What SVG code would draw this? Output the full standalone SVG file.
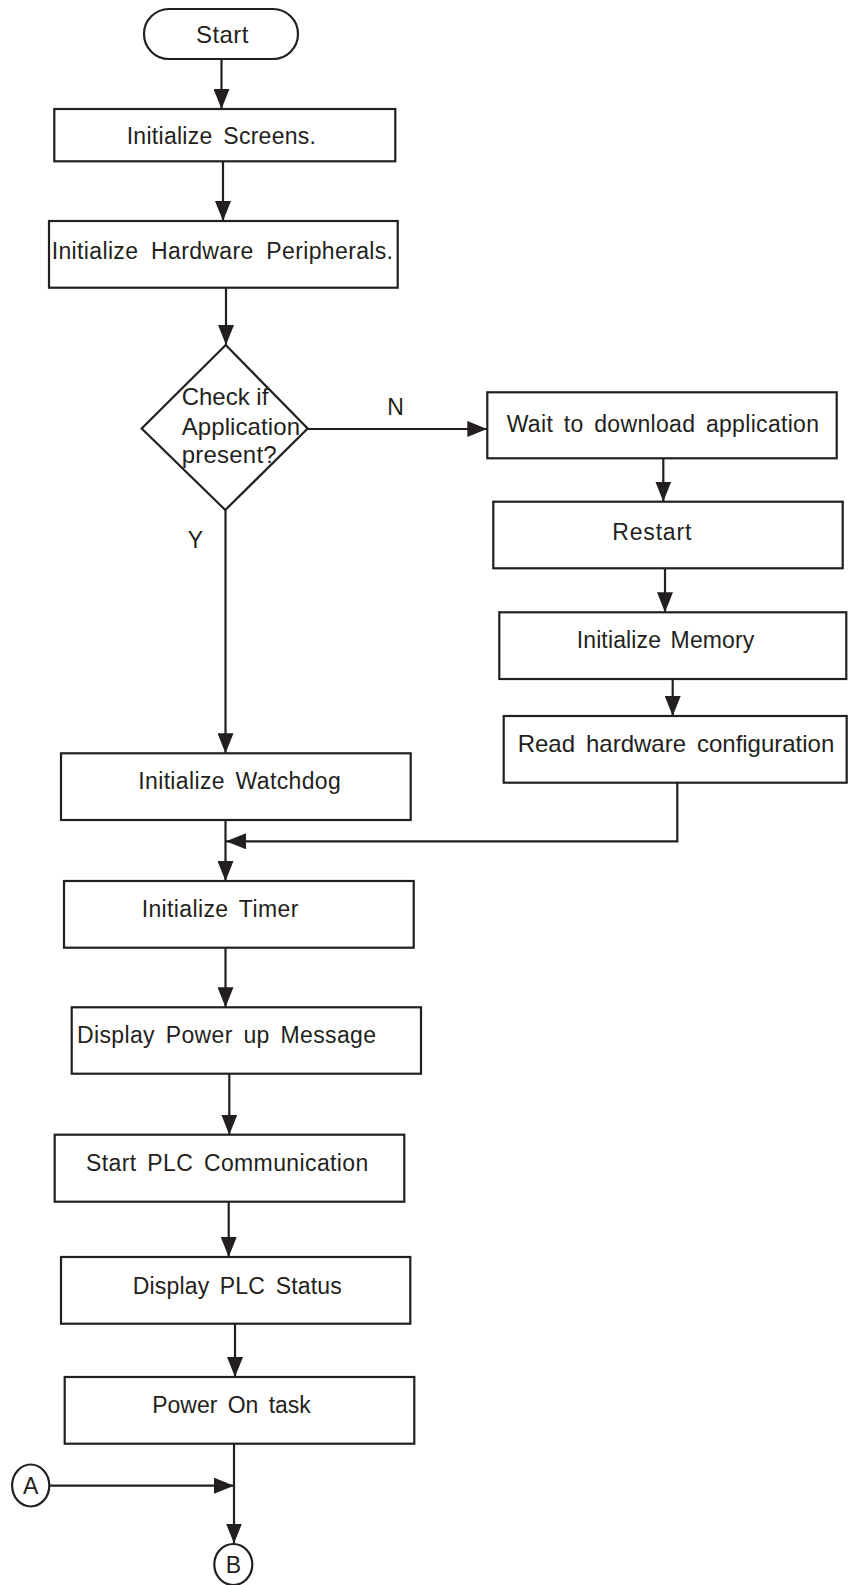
<svg xmlns="http://www.w3.org/2000/svg" width="848" height="1585" viewBox="0 0 848 1585">
<style>
.box{fill:#fff;stroke:#231f20;stroke-width:2.2}
.ln{fill:none;stroke:#231f20;stroke-width:2.2}
.ar{marker-end:url(#ah)}
text{font-family:"Liberation Sans",Arial,sans-serif;font-size:23px;fill:#231f20}
.big{font-size:24px}
.c{text-anchor:middle}
</style>
<defs>
<marker id="ah" markerUnits="userSpaceOnUse" markerWidth="20" markerHeight="16" refX="20" refY="8" orient="auto">
<path d="M0,0 L20,8 L0,16 z" fill="#231f20"/>
</marker>
</defs>
<g id="connectors">
<line class="ln ar" x1="221.5" y1="59" x2="221.5" y2="109"/>
<line class="ln ar" x1="223" y1="161" x2="223" y2="221"/>
<line class="ln ar" x1="226" y1="288" x2="226" y2="345"/>
<line class="ln ar" x1="307.7" y1="429" x2="487.3" y2="429"/>
<line class="ln ar" x1="663.3" y1="458.3" x2="663.3" y2="501.5"/>
<line class="ln ar" x1="665" y1="568.3" x2="665" y2="612.3"/>
<line class="ln ar" x1="672.7" y1="679" x2="672.7" y2="716"/>
<line class="ln ar" x1="225.5" y1="510" x2="225.5" y2="753.3"/>
<polyline class="ln ar" points="677.3,782.7 677.3,841.3 226,841.3"/>
<line class="ln ar" x1="225.5" y1="820" x2="225.5" y2="881"/>
<line class="ln ar" x1="225.5" y1="947.7" x2="225.5" y2="1007.3"/>
<line class="ln ar" x1="229.3" y1="1073.7" x2="229.3" y2="1134.7"/>
<line class="ln ar" x1="228.7" y1="1201.7" x2="228.7" y2="1257"/>
<line class="ln ar" x1="235" y1="1323.7" x2="235" y2="1377"/>
<line class="ln ar" x1="234" y1="1443.7" x2="234" y2="1543.5"/>
<line class="ln ar" x1="49.3" y1="1485.7" x2="234" y2="1485.7"/>
<text x="387.3" y="415">N</text>
<text x="187.7" y="548">Y</text>
</g>
<g id="start">
<rect class="box" x="144" y="9" width="154" height="50" rx="25" ry="25"/>
<text class="big" x="196" y="42.5" textLength="52.3" lengthAdjust="spacing">Start</text>
</g>
<g id="init-screens">
<rect class="box" x="54.3" y="109" width="341" height="52.3"/>
<text x="126.7" y="144" style="word-spacing:4px" textLength="189.3" lengthAdjust="spacing">Initialize Screens.</text>
</g>
<g id="init-hw">
<rect class="box" x="49" y="221" width="348.7" height="66.7"/>
<text x="51.7" y="259.3" style="word-spacing:6px" textLength="341.3" lengthAdjust="spacing">Initialize Hardware Peripherals.</text>
</g>
<g id="check-app">
<polygon class="box" points="225.7,345 307.7,428.5 225.3,510 141.7,428.5"/>
<text class="big" x="181.7" y="405" textLength="86.6" lengthAdjust="spacing">Check if</text>
<text class="big" x="181.7" y="435" textLength="118.3" lengthAdjust="spacing">Application</text>
<text class="big" x="181.7" y="462.7" textLength="95" lengthAdjust="spacing">present?</text>
</g>
<g id="wait-download">
<rect class="box" x="487.3" y="392.3" width="349.4" height="66"/>
<text x="506.7" y="431.7" style="word-spacing:4px" textLength="312.3" lengthAdjust="spacing">Wait to download application</text>
</g>
<g id="restart">
<rect class="box" x="493.3" y="501.7" width="349.4" height="66.6"/>
<text x="612.3" y="540" textLength="79" lengthAdjust="spacing">Restart</text>
</g>
<g id="init-memory">
<rect class="box" x="499.3" y="612.3" width="347" height="66.7"/>
<text x="576.7" y="648.3" style="word-spacing:3px" textLength="177.6" lengthAdjust="spacing">Initialize Memory</text>
</g>
<g id="read-hw">
<rect class="box" x="503.7" y="716" width="343" height="66.7"/>
<text class="big" x="517.7" y="752.3" style="word-spacing:4.3px" textLength="316.6" lengthAdjust="spacing">Read hardware configuration</text>
</g>
<g id="init-watchdog">
<rect class="box" x="61" y="753.3" width="349.7" height="66.7"/>
<text x="138.3" y="789.3" style="word-spacing:4px" textLength="202.4" lengthAdjust="spacing">Initialize Watchdog</text>
</g>
<g id="init-timer">
<rect class="box" x="64" y="881" width="349.7" height="66.7"/>
<text x="141.7" y="917.3" style="word-spacing:4px" textLength="156.6" lengthAdjust="spacing">Initialize Timer</text>
</g>
<g id="display-powerup">
<rect class="box" x="71.7" y="1007.3" width="349.3" height="66.4"/>
<text x="77" y="1042.7" style="word-spacing:4px" textLength="299" lengthAdjust="spacing">Display Power up Message</text>
</g>
<g id="start-plc">
<rect class="box" x="54.7" y="1134.7" width="349.6" height="67"/>
<text x="86" y="1171" style="word-spacing:4px" textLength="282.3" lengthAdjust="spacing">Start PLC Communication</text>
</g>
<g id="display-status">
<rect class="box" x="61" y="1257" width="349.3" height="66.7"/>
<text x="132.7" y="1294.3" style="word-spacing:4px" textLength="209" lengthAdjust="spacing">Display PLC Status</text>
</g>
<g id="power-on">
<rect class="box" x="64.7" y="1377" width="349.6" height="66.7"/>
<text x="152.3" y="1412.5" style="word-spacing:4px" textLength="158.4" lengthAdjust="spacing">Power On task</text>
</g>
<g id="conn-a">
<ellipse class="box" cx="30.7" cy="1485.5" rx="18.6" ry="21"/>
<text class="c" x="30.7" y="1493.5">A</text>
</g>
<g id="conn-b">
<ellipse class="box" cx="233.3" cy="1564.5" rx="19" ry="20.5"/>
<text class="c" x="233.3" y="1572.7">B</text>
</g>
</svg>
